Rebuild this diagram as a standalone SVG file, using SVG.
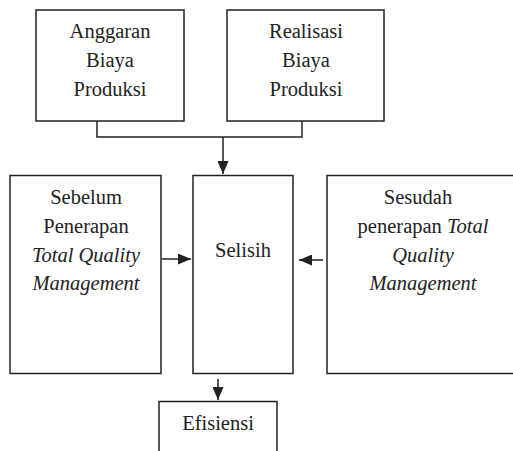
<svg xmlns="http://www.w3.org/2000/svg" width="513" height="451" viewBox="0 0 513 451">
<style>
.box{fill:#fff;stroke:#222;stroke-width:1.5}
.t{font-family:"Liberation Serif","Times New Roman",serif;font-size:20.5px;fill:#222;text-anchor:middle}
.i{font-style:italic}
.c{fill:none;stroke:#222;stroke-width:1.5}
</style>
<defs>
<marker id="ah" viewBox="0 0 13 11" refX="13" refY="5.5" markerWidth="13" markerHeight="11" markerUnits="userSpaceOnUse" orient="auto">
<path d="M0,0 L13,5.5 L0,11 Z" fill="#222"/>
</marker>
</defs>
<rect width="513" height="451" fill="#fff"/>
<g id="anggaran">
<rect class="box" x="36" y="10" width="148" height="111"/>
<text class="t" x="110" y="38">Anggaran</text>
<text class="t" x="110" y="67">Biaya</text>
<text class="t" x="110" y="96">Produksi</text>
</g>
<g id="realisasi">
<rect class="box" x="227" y="10" width="157" height="111"/>
<text class="t" x="306" y="38">Realisasi</text>
<text class="t" x="306" y="67">Biaya</text>
<text class="t" x="306" y="96">Produksi</text>
</g>
<g id="sebelum">
<rect class="box" x="10" y="175.5" width="151" height="198"/>
<text class="t" x="86" y="204">Sebelum</text>
<text class="t" x="86" y="233">Penerapan</text>
<text class="t i" x="86" y="262">Total Quality</text>
<text class="t i" x="86" y="290">Management</text>
</g>
<g id="selisih">
<rect class="box" x="193" y="175.5" width="100" height="198"/>
<text class="t" x="243" y="257">Selisih</text>
</g>
<g id="sesudah">
<rect class="box" x="327" y="175.5" width="191" height="198"/>
<text class="t" x="418" y="204">Sesudah</text>
<text class="t" x="423" y="233">penerapan <tspan class="i">Total</tspan></text>
<text class="t i" x="423" y="262">Quality</text>
<text class="t i" x="423" y="290">Management</text>
</g>
<g id="efisiensi">
<rect class="box" x="159" y="401.5" width="118" height="60"/>
<text class="t" x="218" y="430">Efisiensi</text>
</g>
<g id="connectors">
<path class="c" d="M97,121 V137 H302 V121"/>
<path class="c" d="M223,137 V174" marker-end="url(#ah)"/>
<path class="c" d="M162,259 H191" marker-end="url(#ah)"/>
<path class="c" d="M323,260 H299" marker-end="url(#ah)"/>
<path class="c" d="M218,379 V400" marker-end="url(#ah)"/>
</g>
</svg>
